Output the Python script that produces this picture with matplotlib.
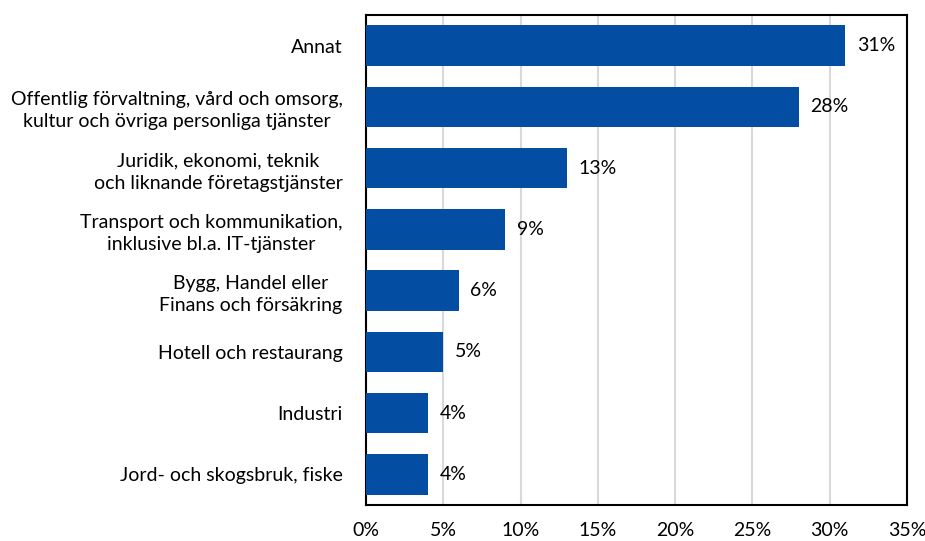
import numpy as np
import matplotlib

matplotlib.use("Agg")
import matplotlib.pyplot as plt
from matplotlib.ticker import FuncFormatter, MultipleLocator

categories = [
    "Annat",
    "Offentlig förvaltning, vård och omsorg,\nkultur och övriga personliga tjänster",
    "Juridik, ekonomi, teknik\noch liknande företagstjänster",
    "Transport och kommunikation,\ninklusive bl.a. IT-tjänster",
    "Bygg, Handel eller\nFinans och försäkring",
    "Hotell och restaurang",
    "Industri",
    "Jord- och skogsbruk, fiske",
]
values = [31, 28, 13, 9, 6, 5, 4, 4]

BAR_COLOR = "#034EA2"
GRID_COLOR = "#D9D9D9"
FS = 14

plt.rcParams["font.family"] = ["Lato", "DejaVu Sans"]

fig = plt.figure(figsize=(9.25, 5.41), dpi=100)
ax = fig.add_axes([366 / 925, 1 - 505 / 541, 541 / 925, 490 / 541])

y = np.arange(len(categories))
ax.barh(y, values, height=0.66, color=BAR_COLOR, zorder=3)
for yi, v in zip(y, values):
    ax.text(v + 0.75, yi, f"{v}%", va="center", ha="left", fontsize=FS, color="black")

ax.set_xlim(0, 35)
ax.set_ylim(len(categories) - 0.5, -0.5)
ax.xaxis.set_major_locator(MultipleLocator(5))
ax.xaxis.set_major_formatter(FuncFormatter(lambda x, _: f"{x:.0f}%"))
ax.set_yticks(y)
ax.set_yticklabels(categories, fontsize=FS, multialignment="center", linespacing=1.35)
ax.tick_params(axis="both", length=0, labelsize=FS)
ax.tick_params(axis="y", pad=17)
ax.tick_params(axis="x", pad=12)
ax.grid(axis="x", color=GRID_COLOR, linewidth=1.5, zorder=0)
for s in ax.spines.values():
    s.set_linewidth(1.5)
    s.set_color("black")

fig.savefig("out.png", dpi=100)
